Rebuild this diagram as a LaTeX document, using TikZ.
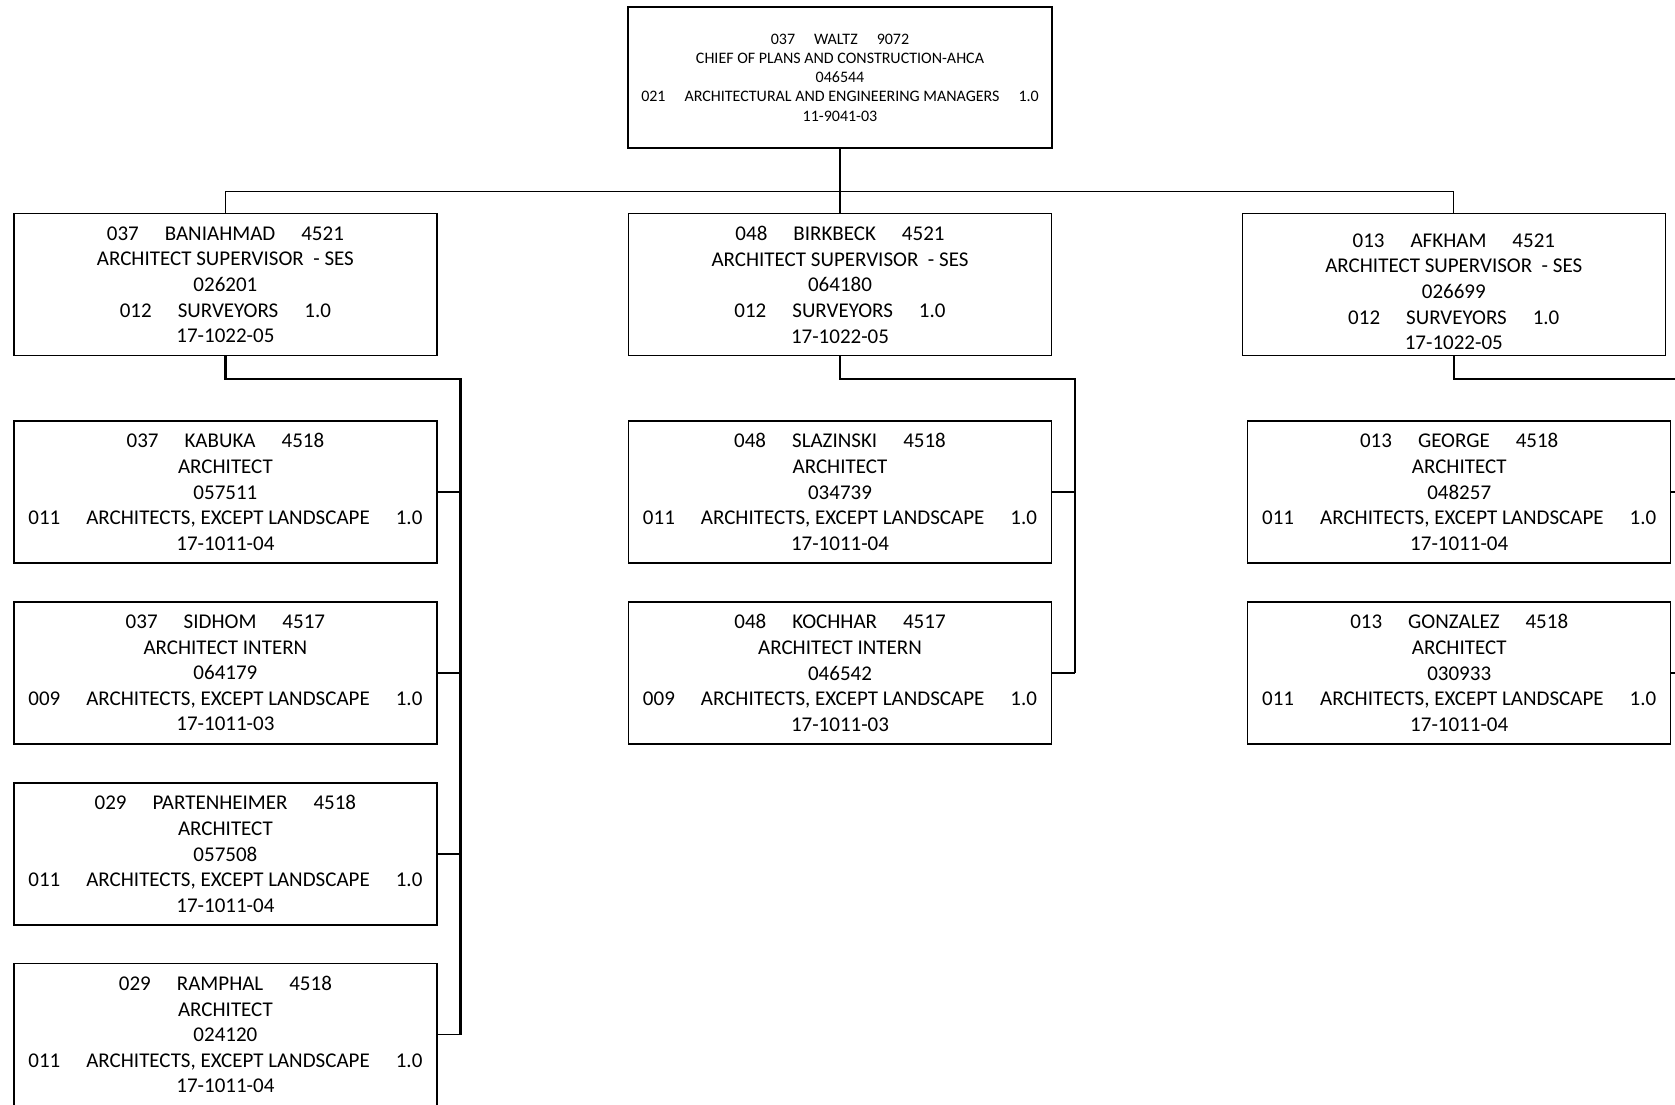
\documentclass[tikz,border=0pt]{standalone}
\usepackage{fontspec}
\setmainfont{Carlito}
\newcommand\gp{\hspace{13pt}}
\newcommand\tgp{\hspace{9.5pt}}
\begin{document}
\begin{tikzpicture}[x=0.5pt,y=-0.5pt,
  box/.style={draw, line width=0.75pt, minimum width=211.5pt, minimum height=71pt, inner sep=0pt, align=center, font=\fontsize{10.5}{12.8}\selectfont},
  topbox/.style={draw, line width=0.75pt, minimum width=212pt, minimum height=70.5pt, inner sep=0pt, align=center, font=\fontsize{8}{9.6}\selectfont},
  plaintext/.style={inner sep=0pt, align=center, font=\fontsize{10.5}{12.8}\selectfont},
  thk/.style={line width=1.1pt},
  thn/.style={line width=0.65pt}]
\useasboundingbox (0,0) rectangle (1675,1104);
\fill[white] (0,0) rectangle (1675,1104);

% top
\node[topbox] (top) at (840,77.5) {037\tgp WALTZ\tgp 9072\\CHIEF OF PLANS AND CONSTRUCTION-AHCA\\046544\\021\tgp ARCHITECTURAL AND ENGINEERING MANAGERS\tgp 1.0\\11-9041-03};

% level 2
\node[box] (bl) at (225.4,284.7) {037\gp BANIAHMAD\gp 4521\\ARCHITECT SUPERVISOR\ \ - SES\\026201\\012\gp SURVEYORS\gp 1.0\\17-1022-05};
\node[box] (bm) at (840,284.7) {048\gp BIRKBECK\gp 4521\\ARCHITECT SUPERVISOR\ \ - SES\\064180\\012\gp SURVEYORS\gp 1.0\\17-1022-05};
\node[box] (br) at (1453.8,284.7) {};
\node[plaintext, yshift=-3.5pt] (brt) at (br) {013\gp AFKHAM\gp 4521\\ARCHITECT SUPERVISOR\ \ - SES\\026699\\012\gp SURVEYORS\gp 1.0\\17-1022-05};

% left children
\node[box] (l1) at (225.4,491.9) {037\gp KABUKA\gp 4518\\ARCHITECT\\057511\\011\gp ARCHITECTS, EXCEPT LANDSCAPE\gp 1.0\\17-1011-04};
\node[box] (l2) at (225.4,673) {037\gp SIDHOM\gp 4517\\ARCHITECT INTERN\\064179\\009\gp ARCHITECTS, EXCEPT LANDSCAPE\gp 1.0\\17-1011-03};
\node[box] (l3) at (225.4,854) {029\gp PARTENHEIMER\gp 4518\\ARCHITECT\\057508\\011\gp ARCHITECTS, EXCEPT LANDSCAPE\gp 1.0\\17-1011-04};
\node[box] (l4) at (225.4,1034.5) {029\gp RAMPHAL\gp 4518\\ARCHITECT\\024120\\011\gp ARCHITECTS, EXCEPT LANDSCAPE\gp 1.0\\17-1011-04};

% middle children
\node[box] (m1) at (840,491.9) {048\gp SLAZINSKI\gp 4518\\ARCHITECT\\034739\\011\gp ARCHITECTS, EXCEPT LANDSCAPE\gp 1.0\\17-1011-04};
\node[box] (m2) at (840,673) {048\gp KOCHHAR\gp 4517\\ARCHITECT INTERN\\046542\\009\gp ARCHITECTS, EXCEPT LANDSCAPE\gp 1.0\\17-1011-03};

% right children
\node[box] (r1) at (1459.2,491.9) {013\gp GEORGE\gp 4518\\ARCHITECT\\048257\\011\gp ARCHITECTS, EXCEPT LANDSCAPE\gp 1.0\\17-1011-04};
\node[box] (r2) at (1459.2,673) {013\gp GONZALEZ\gp 4518\\ARCHITECT\\030933\\011\gp ARCHITECTS, EXCEPT LANDSCAPE\gp 1.0\\17-1011-04};

% top connectors
\coordinate (bus) at (840,191.2);
\draw[thk] (top.south) -- (bus);
\draw[thn] (bl.north) -- (bl.north |- bus) -- (br.north |- bus) -- (br.north);
\draw[thn] (bus) -- (bm.north);

% left trunk
\coordinate (lt) at (460.4,379.2);
\draw[thk] (bl.south) |- (lt) -- (lt |- l4.east);
\foreach \n in {l1,l2,l3,l4} \draw[thn] (\n.east) -- (\n.east -| lt);

% middle trunk
\coordinate (mt) at (1074.6,379.2);
\draw[thk] (bm.south) |- (mt) -- (mt |- m2.east);
\foreach \n in {m1,m2} \draw[thn] (\n.east) -- (\n.east -| mt);

% right trunk
\coordinate (rt) at (1694,379.2);
\draw[thk] (br.south) |- (rt) -- (rt |- r2.east);
\foreach \n in {r1,r2} \draw[thn] (\n.east) -- (\n.east -| rt);
\end{tikzpicture}
\end{document}
